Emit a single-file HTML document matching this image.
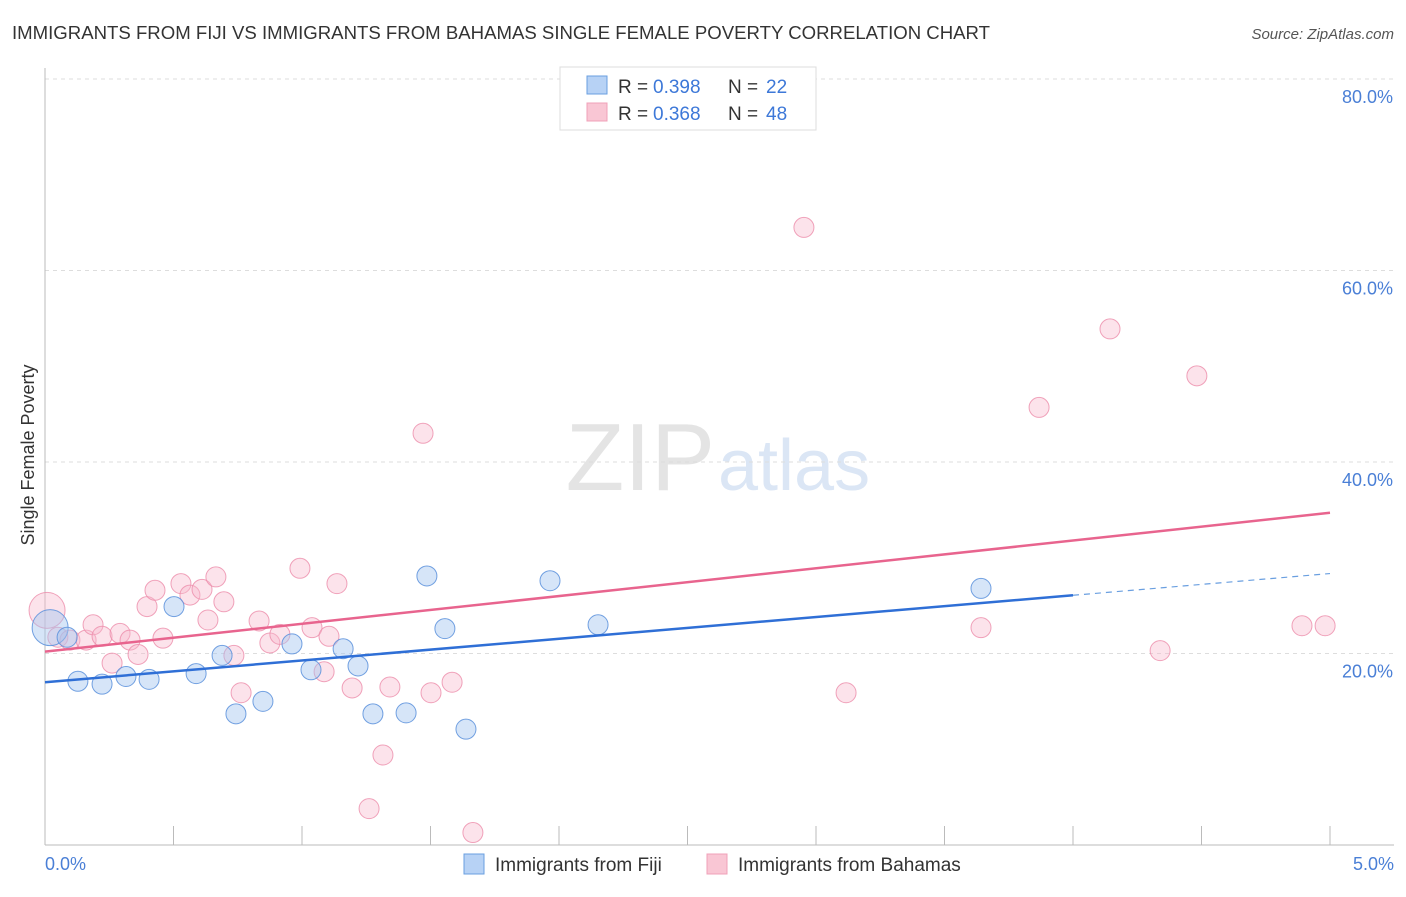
<!DOCTYPE html>
<html><head><meta charset="utf-8"><style>
body{margin:0;background:#fff;font-family:"Liberation Sans",sans-serif;}
svg text{font-family:"Liberation Sans",sans-serif;}
</style></head><body>
<svg id="c" width="1406" height="892">
<text x="12" y="39" font-size="18" fill="#333" textLength="978" lengthAdjust="spacingAndGlyphs">IMMIGRANTS FROM FIJI VS IMMIGRANTS FROM BAHAMAS SINGLE FEMALE POVERTY CORRELATION CHART</text>
<text x="1394" y="39" font-size="15" fill="#555" text-anchor="end" font-style="italic">Source: ZipAtlas.com</text>
<text x="715" y="490" font-size="96" fill="#e4e4e4" text-anchor="end" font-family="Liberation Serif">ZIP</text>
<text x="718" y="490" font-size="72" fill="#dbe6f5">atlas</text>
<g id="grid"></g><g id="axes"></g><g id="marks"></g>
<text transform="translate(34,455) rotate(-90)" font-size="18" fill="#333" text-anchor="middle">Single Female Poverty</text>
<text x="45" y="870" font-size="18" fill="#4a7fd6">0.0%</text>
<text x="1394" y="870" font-size="18" fill="#4a7fd6" text-anchor="end">5.0%</text>
<g>
<rect x="560" y="67" width="256" height="63" fill="#fff" stroke="#ddd"/>
<rect x="587" y="76" width="20" height="18" fill="#b7d2f5" stroke="#6a9fe0"/>
<rect x="587" y="103" width="20" height="18" fill="#f9c6d4" stroke="#f0a0b8"/>
<text x="618" y="93" font-size="19" fill="#333">R =</text>
<text x="653" y="93" font-size="19" fill="#3d78d8">0.398</text>
<text x="728" y="93" font-size="19" fill="#333">N =</text>
<text x="766" y="93" font-size="19" fill="#3d78d8">22</text>
<text x="618" y="120" font-size="19" fill="#333">R =</text>
<text x="653" y="120" font-size="19" fill="#3d78d8">0.368</text>
<text x="728" y="120" font-size="19" fill="#333">N =</text>
<text x="766" y="120" font-size="19" fill="#3d78d8">48</text>
</g>
<g>
<rect x="464" y="854" width="20" height="20" fill="#b7d2f5" stroke="#6a9fe0"/>
<text x="495" y="871" font-size="19" fill="#333">Immigrants from Fiji</text>
<rect x="707" y="854" width="20" height="20" fill="#f9c6d4" stroke="#f0a0b8"/>
<text x="738" y="871" font-size="19" fill="#333">Immigrants from Bahamas</text>
</g>
</svg>
<script>
const yTicks=[20,40,60,80];
const xTicks=[0,0.5,1,1.5,2,2.5,3,3.5,4,4.5,5];
const fijiX=[0.02,0.086,0.128,0.222,0.315,0.405,0.502,0.588,0.689,0.743,0.848,0.961,1.035,1.16,1.218,1.276,1.405,1.486,1.556,1.638,1.965,2.152,3.642];
const fijiY=[22.7,21.7,17.1,16.8,17.6,17.3,24.9,17.9,19.8,13.7,15.0,21.0,18.3,20.5,18.7,13.7,13.8,28.1,22.6,12.1,27.6,23.0,26.8];
const fijiR=[18,10,10,10,10,10,10,10,10,10,10,10,10,10,10,10,10,10,10,10,10,10,10];
const bahX=[0.008,0.05,0.097,0.16,0.187,0.222,0.261,0.292,0.331,0.362,0.397,0.428,0.459,0.529,0.564,0.611,0.634,0.665,0.696,0.735,0.763,0.833,0.875,0.914,0.992,1.039,1.086,1.105,1.136,1.195,1.315,1.342,1.261,1.471,1.502,1.584,1.665,2.953,3.117,3.642,3.868,4.144,4.339,4.482,4.891,4.981];
const bahY=[24.5,21.7,21.4,21.4,23.0,21.8,19.0,22.1,21.4,19.9,24.9,26.6,21.6,27.3,26.1,26.7,23.5,28.0,25.4,19.8,15.9,23.4,21.1,22.0,28.9,22.7,18.1,21.8,27.3,16.4,9.4,16.5,3.8,43.0,15.9,17.0,1.3,64.5,15.9,22.7,45.7,53.9,20.3,49.0,22.9,22.9];
const fijiTrend=[17.0,2.27];
const bahTrend=[20.2,2.9];
const X=v=>45+v*257, Y=v=>845-v*9.575;
const NS="http://www.w3.org/2000/svg";
function mk(t,a,p){const e=document.createElementNS(NS,t);for(const k in a)e.setAttribute(k,a[k]);p.appendChild(e);return e;}
const grid=document.getElementById('grid'),axes=document.getElementById('axes'),marks=document.getElementById('marks');
yTicks.forEach(v=>{
 const l=mk('line',{x1:45,x2:1394,y1:Y(v),y2:Y(v),stroke:'#ddd','stroke-dasharray':'4,4'},grid);
 
 
 const t=mk('text',{x:1393,y:Y(v)+24,'font-size':18,fill:'#4a7fd6','text-anchor':'end'},grid);
 t.textContent=v.toFixed(1)+'%';
 
 
});
const ax=mk('line',{x1:45,x2:1394,y1:845,y2:845,stroke:'#bbb'},axes);


const ay=mk('line',{x1:45,x2:45,y1:68,y2:845,stroke:'#bbb'},axes);


xTicks.forEach(v=>{
 const t=mk('line',{x1:X(v),x2:X(v),y1:826,y2:845,stroke:'#bbb'},axes);
 
 
});
function pts(xs,ys,rs,fill,stroke,name){
 xs.forEach((x,i)=>{
  const c=mk('circle',{cx:X(x),cy:Y(ys[i]),r:rs?rs[i]:(i==0?18:10),fill:fill,stroke:stroke,'stroke-width':1},marks);
  
  
 });
}
pts(bahX,bahY,null,'rgba(248,185,205,0.4)','rgba(236,140,170,0.8)','bahamas-point');
pts(fijiX,fijiY,fijiR,'rgba(165,198,240,0.45)','rgba(90,145,220,0.85)','fiji-point');
const l1=mk('line',{x1:X(0),y1:Y(fijiTrend[0]),x2:X(4),y2:Y(fijiTrend[0]+fijiTrend[1]*4),stroke:'#2f6fd6','stroke-width':2.5},marks);


const l2=mk('line',{x1:X(4),y1:Y(fijiTrend[0]+fijiTrend[1]*4),x2:X(5),y2:Y(fijiTrend[0]+fijiTrend[1]*5),stroke:'#6a9fe0','stroke-width':1.2,'stroke-dasharray':'6,5'},marks);


const l3=mk('line',{x1:X(0),y1:Y(bahTrend[0]),x2:X(5),y2:Y(bahTrend[0]+bahTrend[1]*5),stroke:'#e8648e','stroke-width':2.5},marks);


</script>
</body></html>
